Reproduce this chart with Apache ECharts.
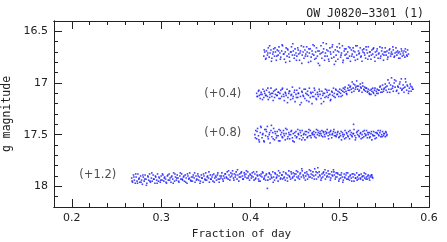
<!DOCTYPE html>
<html><head><meta charset="utf-8">
<script src="https://cdn.jsdelivr.net/npm/echarts@6/dist/echarts.min.js"></script>
<style>html,body{margin:0;padding:0;background:#fff}#c{width:447px;height:242px}</style>
</head><body><div id="c"></div>
<script>
const titleText = 'OW J0820\u22123301 (1)';
const xMajor = [0.2, 0.3, 0.4, 0.5, 0.6];
const yMajor = [16.5, 17, 17.5, 18];
const offsetLabels = [[0.369,17.105,'(+0.4)'],[0.369,17.48,'(+0.8)'],[0.229,17.89,'(+1.2)']];

const bandA = [[0.415,16.74],[0.416,16.70],[0.417,16.77],[0.418,16.69],[0.419,16.73],[0.420,16.66],[0.421,16.75],[0.422,16.71],[0.423,16.68],[0.424,16.76],[0.425,16.72],[0.426,16.67],[0.427,16.74],[0.428,16.70],[0.429,16.78],[0.430,16.68],[0.431,16.73],[0.432,16.65],[0.433,16.71],[0.434,16.75],[0.435,16.69],[0.436,16.64],[0.437,16.72],[0.438,16.77],[0.439,16.70],[0.440,16.66],[0.441,16.74],[0.442,16.68],[0.443,16.72],[0.444,16.79],[0.445,16.70],[0.446,16.65],[0.447,16.73],[0.448,16.69],[0.449,16.76],[0.450,16.67],[0.451,16.71],[0.452,16.74],[0.453,16.66],[0.454,16.72],[0.455,16.78],[0.456,16.69],[0.457,16.64],[0.458,16.73],[0.459,16.70],[0.460,16.76],[0.461,16.68],[0.462,16.72],[0.463,16.65],[0.464,16.74],[0.465,16.80],[0.466,16.71],[0.467,16.67],[0.468,16.75],[0.469,16.69],[0.470,16.63],[0.471,16.73],[0.472,16.77],[0.473,16.70],[0.474,16.66],[0.475,16.74],[0.476,16.81],[0.477,16.69],[0.478,16.72],[0.479,16.64],[0.480,16.76],[0.481,16.70],[0.482,16.67],[0.483,16.78],[0.484,16.71],[0.485,16.62],[0.486,16.74],[0.487,16.69],[0.488,16.79],[0.489,16.66],[0.490,16.72],[0.491,16.76],[0.492,16.63],[0.493,16.70],[0.494,16.82],[0.495,16.68],[0.496,16.73],[0.497,16.65],[0.498,16.77],[0.499,16.70],[0.500,16.66],[0.501,16.75],[0.502,16.71],[0.503,16.64],[0.504,16.78],[0.505,16.69],[0.506,16.73],[0.507,16.67],[0.508,16.76],[0.509,16.70],[0.510,16.65],[0.511,16.74],[0.512,16.79],[0.513,16.68],[0.514,16.72],[0.515,16.66],[0.516,16.75],[0.517,16.70],[0.518,16.64],[0.519,16.73],[0.520,16.77],[0.521,16.69],[0.522,16.71],[0.523,16.66],[0.524,16.74],[0.525,16.79],[0.526,16.70],[0.527,16.67],[0.528,16.73],[0.529,16.76],[0.530,16.68],[0.531,16.71],[0.532,16.65],[0.533,16.74],[0.534,16.70],[0.535,16.77],[0.536,16.68],[0.537,16.72],[0.538,16.66],[0.539,16.75],[0.540,16.70],[0.541,16.73],[0.542,16.67],[0.543,16.76],[0.544,16.71],[0.545,16.65],[0.546,16.74],[0.547,16.69],[0.548,16.72],[0.549,16.78],[0.550,16.70],[0.551,16.66],[0.552,16.73],[0.553,16.69],[0.554,16.75],[0.555,16.71],[0.556,16.67],[0.557,16.74],[0.558,16.70],[0.559,16.72],[0.560,16.68],[0.561,16.75],[0.562,16.71],[0.563,16.66],[0.564,16.73],[0.565,16.69],[0.566,16.76],[0.567,16.70],[0.568,16.72],[0.569,16.67],[0.570,16.74],[0.571,16.71],[0.572,16.69],[0.573,16.75],[0.574,16.70],[0.575,16.73],[0.576,16.68],[0.577,16.72]];
const bandA2 = [[0.4155,16.68],[0.4175,16.76],[0.4195,16.71],[0.4215,16.64],[0.4235,16.79],[0.4255,16.70],[0.4275,16.66],[0.4295,16.74],[0.4315,16.69],[0.4335,16.77],[0.4355,16.63],[0.4375,16.72],[0.4395,16.80],[0.4415,16.67],[0.4435,16.75],[0.4455,16.70],[0.4475,16.62],[0.4495,16.73],[0.4515,16.78],[0.4535,16.68],[0.4555,16.71],[0.4575,16.81],[0.4595,16.65],[0.4615,16.74],[0.4635,16.70],[0.4655,16.67],[0.4675,16.79],[0.4695,16.72],[0.4715,16.64],[0.4735,16.76],[0.4755,16.69],[0.4775,16.83],[0.4795,16.71],[0.4815,16.61],[0.4835,16.74],[0.4855,16.68],[0.4875,16.77],[0.4895,16.70],[0.4915,16.65],[0.4935,16.75],[0.4955,16.79],[0.4975,16.69],[0.4995,16.62],[0.5015,16.73],[0.5035,16.80],[0.5055,16.67],[0.5075,16.72],[0.5095,16.76],[0.5115,16.66],[0.5135,16.74],[0.5155,16.69],[0.5175,16.78],[0.5195,16.64],[0.5215,16.72],[0.5235,16.75],[0.5255,16.68],[0.5275,16.71],[0.5295,16.65],[0.5315,16.77],[0.5335,16.70],[0.5355,16.73],[0.5375,16.67],[0.5395,16.79],[0.5415,16.69],[0.5435,16.72],[0.5455,16.76],[0.5475,16.66],[0.5495,16.73],[0.5515,16.70],[0.5535,16.77],[0.5555,16.68],[0.5575,16.72],[0.5595,16.65],[0.5615,16.74],[0.5635,16.70],[0.5655,16.71],[0.5675,16.76],[0.5695,16.69],[0.5715,16.73],[0.5735,16.67],[0.5755,16.74]];

const bandB = [[0.407,17.10],[0.408,17.13],[0.409,17.08],[0.410,17.12],[0.411,17.15],[0.412,17.09],[0.413,17.11],[0.414,17.06],[0.415,17.14],[0.416,17.10],[0.417,17.12],[0.418,17.07],[0.419,17.13],[0.420,17.16],[0.421,17.09],[0.422,17.11],[0.423,17.05],[0.424,17.13],[0.425,17.10],[0.426,17.08],[0.427,17.14],[0.428,17.11],[0.429,17.06],[0.430,17.12],[0.431,17.09],[0.432,17.15],[0.433,17.10],[0.434,17.07],[0.435,17.13],[0.436,17.05],[0.437,17.11],[0.438,17.17],[0.439,17.09],[0.440,17.12],[0.441,17.06],[0.442,17.14],[0.443,17.10],[0.444,17.08],[0.445,17.16],[0.446,17.11],[0.447,17.04],[0.448,17.13],[0.449,17.09],[0.450,17.18],[0.451,17.11],[0.452,17.07],[0.453,17.14],[0.454,17.10],[0.455,17.05],[0.456,17.13],[0.457,17.19],[0.458,17.09],[0.459,17.12],[0.460,17.06],[0.461,17.15],[0.462,17.10],[0.463,17.17],[0.464,17.08],[0.465,17.12],[0.466,17.05],[0.467,17.14],[0.468,17.10],[0.469,17.20],[0.470,17.09],[0.471,17.13],[0.472,17.07],[0.473,17.11],[0.474,17.16],[0.475,17.09],[0.476,17.13],[0.477,17.06],[0.478,17.11],[0.479,17.15],[0.480,17.08],[0.481,17.12],[0.482,17.18],[0.483,17.10],[0.484,17.06],[0.485,17.13],[0.486,17.09],[0.487,17.14],[0.488,17.07],[0.489,17.11],[0.490,17.16],[0.491,17.08],[0.492,17.12],[0.493,17.05],[0.494,17.10],[0.495,17.14],[0.496,17.07],[0.497,17.11],[0.498,17.08],[0.499,17.13],[0.500,17.06],[0.501,17.10],[0.502,17.07],[0.503,17.12],[0.504,17.05],[0.505,17.09],[0.506,17.04],[0.507,17.08],[0.508,17.11],[0.509,17.05],[0.510,17.02],[0.511,17.07],[0.512,17.03],[0.513,17.06],[0.514,16.99],[0.515,17.05],[0.516,17.08],[0.517,17.02],[0.518,17.04],[0.519,16.98],[0.520,17.06],[0.521,17.03],[0.522,17.07],[0.523,17.01],[0.524,17.05],[0.525,17.09],[0.526,17.03],[0.527,17.06],[0.528,17.04],[0.529,17.08],[0.530,17.05],[0.531,17.09],[0.532,17.06],[0.533,17.10],[0.534,17.07],[0.535,17.11],[0.536,17.08],[0.537,17.05],[0.538,17.10],[0.539,17.07],[0.540,17.12],[0.541,17.08],[0.542,17.06],[0.543,17.10],[0.544,17.07],[0.545,17.04],[0.546,17.09],[0.547,17.06],[0.548,17.02],[0.549,17.08],[0.550,17.05],[0.551,17.01],[0.552,17.07],[0.553,17.03],[0.554,16.97],[0.555,17.06],[0.556,17.09],[0.557,17.02],[0.558,16.95],[0.559,17.05],[0.560,17.08],[0.561,17.00],[0.562,17.04],[0.563,16.98],[0.564,17.07],[0.565,17.03],[0.566,17.10],[0.567,17.01],[0.568,17.05],[0.569,16.96],[0.570,17.06],[0.571,17.02],[0.572,17.09],[0.573,17.04],[0.574,16.99],[0.575,17.07],[0.576,17.03],[0.577,17.10],[0.578,17.05],[0.579,17.01],[0.580,17.08],[0.581,17.04],[0.582,17.06]];
const bandB2 = [[0.4075,17.13],[0.4095,17.07],[0.4115,17.11],[0.4135,17.16],[0.4155,17.08],[0.4175,17.12],[0.4195,17.05],[0.4215,17.14],[0.4235,17.10],[0.4255,17.17],[0.4275,17.07],[0.4295,17.12],[0.4315,17.09],[0.4335,17.15],[0.4355,17.06],[0.4375,17.13],[0.4395,17.10],[0.4415,17.19],[0.4435,17.08],[0.4455,17.12],[0.4475,17.15],[0.4495,17.07],[0.4515,17.14],[0.4535,17.10],[0.4555,17.21],[0.4575,17.08],[0.4595,17.13],[0.4615,17.06],[0.4635,17.11],[0.4655,17.18],[0.4675,17.09],[0.4695,17.13],[0.4715,17.05],[0.4735,17.15],[0.4755,17.11],[0.4775,17.08],[0.4795,17.20],[0.4815,17.10],[0.4835,17.14],[0.4855,17.07],[0.4875,17.12],[0.4895,17.17],[0.4915,17.09],[0.4935,17.13],[0.4955,17.06],[0.4975,17.11],[0.4995,17.09],[0.5015,17.13],[0.5035,17.08],[0.5055,17.06],[0.5075,17.10],[0.5095,17.07],[0.5115,17.04],[0.5135,17.09],[0.5155,17.01],[0.5175,17.06],[0.5195,17.03],[0.5215,17.08],[0.5235,17.04],[0.5255,17.00],[0.5275,17.07],[0.5295,17.05],[0.5315,17.08],[0.5335,17.11],[0.5355,17.06],[0.5375,17.09],[0.5395,17.05],[0.5415,17.10],[0.5435,17.07],[0.5455,17.03],[0.5475,17.09],[0.5495,17.06],[0.5515,17.04],[0.5535,17.09],[0.5555,17.00],[0.5575,17.06],[0.5595,17.03],[0.5615,16.97],[0.5635,17.08],[0.5655,17.04],[0.5675,16.99],[0.5695,17.07],[0.5715,17.05],[0.5735,16.96],[0.5755,17.02],[0.5775,17.08],[0.5795,17.03],[0.5815,17.06]];

const bandC = [[0.405,17.50],[0.406,17.46],[0.407,17.54],[0.408,17.44],[0.409,17.51],[0.410,17.57],[0.411,17.48],[0.412,17.43],[0.413,17.53],[0.414,17.49],[0.415,17.56],[0.416,17.45],[0.417,17.51],[0.418,17.47],[0.419,17.42],[0.420,17.54],[0.421,17.50],[0.422,17.58],[0.423,17.46],[0.424,17.52],[0.425,17.48],[0.426,17.44],[0.427,17.55],[0.428,17.49],[0.429,17.53],[0.430,17.47],[0.431,17.51],[0.432,17.45],[0.433,17.56],[0.434,17.50],[0.435,17.48],[0.436,17.53],[0.437,17.46],[0.438,17.51],[0.439,17.55],[0.440,17.49],[0.441,17.45],[0.442,17.52],[0.443,17.48],[0.444,17.54],[0.445,17.50],[0.446,17.46],[0.447,17.53],[0.448,17.49],[0.449,17.57],[0.450,17.51],[0.451,17.47],[0.452,17.52],[0.453,17.45],[0.454,17.50],[0.455,17.54],[0.456,17.48],[0.457,17.51],[0.458,17.46],[0.459,17.53],[0.460,17.49],[0.461,17.55],[0.462,17.50],[0.463,17.47],[0.464,17.52],[0.465,17.48],[0.466,17.51],[0.467,17.46],[0.468,17.53],[0.469,17.49],[0.470,17.50],[0.471,17.47],[0.472,17.52],[0.473,17.48],[0.474,17.45],[0.475,17.50],[0.476,17.48],[0.477,17.51],[0.478,17.47],[0.479,17.49],[0.480,17.46],[0.481,17.52],[0.482,17.48],[0.483,17.50],[0.484,17.47],[0.485,17.49],[0.486,17.45],[0.487,17.51],[0.488,17.48],[0.489,17.50],[0.490,17.46],[0.491,17.53],[0.492,17.49],[0.493,17.47],[0.494,17.51],[0.495,17.48],[0.496,17.52],[0.497,17.50],[0.498,17.47],[0.499,17.53],[0.500,17.49],[0.501,17.51],[0.502,17.55],[0.503,17.48],[0.504,17.52],[0.505,17.50],[0.506,17.46],[0.507,17.53],[0.508,17.49],[0.509,17.51],[0.510,17.47],[0.511,17.54],[0.512,17.50],[0.513,17.48],[0.514,17.52],[0.515,17.49],[0.5155,17.40],[0.516,17.45],[0.517,17.51],[0.518,17.53],[0.519,17.48],[0.520,17.50],[0.521,17.46],[0.522,17.52],[0.523,17.49],[0.524,17.54],[0.525,17.50],[0.526,17.47],[0.527,17.52],[0.528,17.49],[0.529,17.51],[0.530,17.46],[0.531,17.53],[0.532,17.50],[0.533,17.48],[0.534,17.52],[0.535,17.49],[0.536,17.55],[0.537,17.50],[0.538,17.47],[0.539,17.51],[0.540,17.48],[0.541,17.53],[0.542,17.49],[0.543,17.46],[0.544,17.51],[0.545,17.48],[0.546,17.52],[0.547,17.50],[0.548,17.47],[0.549,17.51],[0.550,17.49],[0.551,17.52],[0.552,17.48],[0.553,17.50]];
const bandC2 = [[0.4055,17.53],[0.4075,17.47],[0.4095,17.55],[0.4115,17.42],[0.4135,17.50],[0.4155,17.57],[0.4175,17.45],[0.4195,17.52],[0.4215,17.48],[0.4235,17.41],[0.4255,17.54],[0.4275,17.47],[0.4295,17.51],[0.4315,17.56],[0.4335,17.46],[0.4355,17.52],[0.4375,17.49],[0.4395,17.44],[0.4415,17.54],[0.4435,17.50],[0.4455,17.47],[0.4475,17.56],[0.4495,17.48],[0.4515,17.53],[0.4535,17.49],[0.4555,17.46],[0.4575,17.55],[0.4595,17.50],[0.4615,17.47],[0.4635,17.53],[0.4655,17.45],[0.4675,17.51],[0.4695,17.48],[0.4715,17.50],[0.4735,17.53],[0.4755,17.46],[0.4775,17.49],[0.4795,17.51],[0.4815,17.47],[0.4835,17.52],[0.4855,17.48],[0.4875,17.54],[0.4895,17.47],[0.4915,17.50],[0.4935,17.45],[0.4955,17.51],[0.4975,17.48],[0.4995,17.52],[0.5015,17.47],[0.5035,17.50],[0.5055,17.54],[0.5075,17.48],[0.5095,17.52],[0.5115,17.46],[0.5135,17.51],[0.5155,17.49],[0.5175,17.55],[0.5195,17.47],[0.5215,17.51],[0.5235,17.48],[0.5255,17.53],[0.5275,17.46],[0.5295,17.50],[0.5315,17.48],[0.5335,17.53],[0.5355,17.47],[0.5375,17.51],[0.5395,17.54],[0.5415,17.48],[0.5435,17.50],[0.5455,17.46],[0.5475,17.52],[0.5495,17.49],[0.5515,17.47],[0.5525,17.51]];

const bandD = [[0.267,17.92],[0.268,17.96],[0.269,17.89],[0.270,17.94],[0.271,17.97],[0.272,17.91],[0.273,17.95],[0.274,17.88],[0.275,17.93],[0.276,17.96],[0.277,17.90],[0.278,17.94],[0.279,17.98],[0.280,17.91],[0.281,17.95],[0.282,17.89],[0.283,17.93],[0.284,17.97],[0.285,17.90],[0.286,17.94],[0.287,17.88],[0.288,17.96],[0.289,17.92],[0.290,17.95],[0.291,17.89],[0.292,17.93],[0.293,17.97],[0.294,17.91],[0.295,17.94],[0.296,17.88],[0.297,17.95],[0.298,17.92],[0.299,17.96],[0.300,17.90],[0.301,17.94],[0.302,17.89],[0.303,17.95],[0.304,17.91],[0.305,17.93],[0.306,17.97],[0.307,17.90],[0.308,17.94],[0.309,17.88],[0.310,17.92],[0.311,17.96],[0.312,17.90],[0.313,17.93],[0.314,17.87],[0.315,17.95],[0.316,17.91],[0.317,17.94],[0.318,17.89],[0.319,17.92],[0.320,17.96],[0.321,17.90],[0.322,17.93],[0.323,17.88],[0.324,17.94],[0.325,17.91],[0.326,17.95],[0.327,17.89],[0.328,17.92],[0.329,17.97],[0.330,17.90],[0.331,17.93],[0.332,17.87],[0.333,17.94],[0.334,17.91],[0.335,17.95],[0.336,17.89],[0.337,17.92],[0.338,17.96],[0.339,17.90],[0.340,17.93],[0.341,17.88],[0.342,17.94],[0.343,17.91],[0.344,17.95],[0.345,17.89],[0.346,17.92],[0.347,17.96],[0.348,17.90],[0.349,17.93],[0.350,17.87],[0.351,17.94],[0.352,17.90],[0.353,17.92],[0.354,17.96],[0.355,17.89],[0.356,17.93],[0.357,17.91],[0.358,17.95],[0.359,17.88],[0.360,17.92],[0.361,17.90],[0.362,17.94],[0.363,17.89],[0.364,17.93],[0.365,17.96],[0.366,17.90],[0.367,17.92],[0.368,17.87],[0.369,17.93],[0.370,17.90],[0.371,17.92],[0.372,17.88],[0.373,17.91],[0.374,17.86],[0.375,17.93],[0.376,17.89],[0.377,17.94],[0.378,17.87],[0.379,17.90],[0.380,17.85],[0.381,17.92],[0.382,17.88],[0.383,17.91],[0.384,17.86],[0.385,17.93],[0.386,17.89],[0.387,17.95],[0.388,17.88],[0.389,17.91],[0.390,17.86],[0.391,17.90],[0.392,17.93],[0.393,17.87],[0.394,17.91],[0.395,17.88],[0.396,17.92],[0.397,17.86],[0.398,17.90],[0.399,17.94],[0.400,17.89],[0.401,17.92],[0.402,17.87],[0.403,17.91],[0.404,17.94],[0.405,17.88],[0.406,17.92],[0.407,17.86],[0.408,17.90],[0.409,17.93],[0.410,17.89],[0.411,17.95],[0.412,17.88],[0.413,17.91],[0.414,17.87],[0.415,17.93],[0.416,17.90],[0.417,17.94],[0.418,17.88],[0.419,18.02],[0.420,17.91],[0.421,17.87],[0.422,17.93],[0.423,17.89],[0.424,17.92],[0.425,17.86],[0.426,17.91],[0.427,17.94],[0.428,17.88],[0.429,17.92],[0.430,17.89],[0.431,17.95],[0.432,17.90],[0.433,17.87],[0.434,17.92],[0.435,17.89],[0.436,17.93],[0.437,17.86],[0.438,17.91],[0.439,17.94],[0.440,17.88],[0.441,17.92],[0.442,17.89],[0.443,17.85],[0.444,17.91],[0.445,17.93],[0.446,17.88],[0.447,17.92],[0.448,17.87],[0.449,17.90],[0.450,17.94],[0.451,17.88],[0.452,17.91],[0.453,17.86],[0.454,17.90],[0.455,17.93],[0.456,17.87],[0.457,17.91],[0.458,17.85],[0.459,17.89],[0.460,17.92],[0.461,17.87],[0.462,17.90],[0.463,17.86],[0.464,17.93],[0.465,17.89],[0.466,17.84],[0.467,17.91],[0.468,17.88],[0.469,17.92],[0.470,17.86],[0.471,17.90],[0.472,17.83],[0.473,17.89],[0.474,17.93],[0.475,17.87],[0.476,17.91],[0.477,17.86],[0.478,17.90],[0.479,17.94],[0.480,17.88],[0.481,17.91],[0.482,17.86],[0.483,17.89],[0.484,17.93],[0.485,17.87],[0.486,17.90],[0.487,17.85],[0.488,17.91],[0.489,17.88],[0.490,17.92],[0.491,17.86],[0.492,17.90],[0.493,17.84],[0.494,17.89],[0.495,17.93],[0.496,17.87],[0.497,17.91],[0.498,17.88],[0.499,17.95],[0.500,17.89],[0.501,17.92],[0.502,17.87],[0.503,17.91],[0.504,17.94],[0.505,17.88],[0.506,17.92],[0.507,17.89],[0.508,17.93],[0.509,17.87],[0.510,17.91],[0.511,17.94],[0.512,17.89],[0.513,17.92],[0.514,17.88],[0.515,17.91],[0.516,17.95],[0.517,17.89],[0.518,17.92],[0.519,17.87],[0.520,17.91],[0.521,17.93],[0.522,17.89],[0.523,17.92],[0.524,17.88],[0.525,17.91],[0.526,17.94],[0.527,17.90],[0.528,17.92],[0.529,17.88],[0.530,17.91],[0.531,17.93],[0.532,17.89],[0.533,17.92],[0.534,17.90],[0.535,17.91],[0.536,17.89],[0.537,17.92]];
const bandD2 = [[0.2675,17.95],[0.2695,17.91],[0.2715,17.88],[0.2735,17.97],[0.2755,17.92],[0.2775,17.96],[0.2795,17.89],[0.2815,17.93],[0.2835,17.99],[0.2855,17.91],[0.2875,17.95],[0.2895,17.87],[0.2915,17.93],[0.2935,17.90],[0.2955,17.97],[0.2975,17.91],[0.2995,17.94],[0.3015,17.88],[0.3035,17.92],[0.3055,17.96],[0.3075,17.89],[0.3095,17.94],[0.3115,17.91],[0.3135,17.97],[0.3155,17.88],[0.3175,17.92],[0.3195,17.95],[0.3215,17.87],[0.3235,17.93],[0.3255,17.90],[0.3275,17.96],[0.3295,17.88],[0.3315,17.92],[0.3335,17.95],[0.3355,17.91],[0.3375,17.87],[0.3395,17.94],[0.3415,17.90],[0.3435,17.97],[0.3455,17.92],[0.3475,17.88],[0.3495,17.94],[0.3515,17.91],[0.3535,17.86],[0.3555,17.93],[0.3575,17.89],[0.3595,17.96],[0.3615,17.91],[0.3635,17.87],[0.3655,17.93],[0.3675,17.90],[0.3695,17.95],[0.3715,17.88],[0.3735,17.92],[0.3755,17.85],[0.3775,17.91],[0.3795,17.88],[0.3815,17.94],[0.3835,17.89],[0.3855,17.84],[0.3875,17.91],[0.3895,17.87],[0.3915,17.93],[0.3935,17.89],[0.3955,17.85],[0.3975,17.92],[0.3995,17.88],[0.4015,17.90],[0.4035,17.86],[0.4055,17.93],[0.4075,17.89],[0.4095,17.95],[0.4115,17.90],[0.4135,17.86],[0.4155,17.92],[0.4175,17.89],[0.4195,17.94],[0.4215,17.88],[0.4235,17.91],[0.4255,17.96],[0.4275,17.87],[0.4295,17.91],[0.4315,17.85],[0.4335,17.93],[0.4355,17.89],[0.4375,17.92],[0.4395,17.87],[0.4415,17.95],[0.4435,17.90],[0.4455,17.86],[0.4475,17.91],[0.4495,17.88],[0.4515,17.85],[0.4535,17.92],[0.4555,17.88],[0.4575,17.83],[0.4595,17.90],[0.4615,17.94],[0.4635,17.88],[0.4655,17.91],[0.4675,17.85],[0.4695,17.89],[0.4715,17.93],[0.4735,17.86],[0.4755,17.82],[0.4775,17.89],[0.4795,17.92],[0.4815,17.87],[0.4835,17.84],[0.4855,17.91],[0.4875,17.88],[0.4895,17.94],[0.4915,17.89],[0.4935,17.86],[0.4955,17.91],[0.4975,17.87],[0.4995,17.93],[0.5015,17.89],[0.5035,17.96],[0.5055,17.91],[0.5075,17.87],[0.5095,17.93],[0.5115,17.90],[0.5135,17.95],[0.5155,17.88],[0.5175,17.92],[0.5195,17.94],[0.5215,17.89],[0.5235,17.93],[0.5255,17.90],[0.5275,17.87],[0.5295,17.93],[0.5315,17.90],[0.5335,17.94],[0.5355,17.89],[0.5365,17.91]];

const chart = echarts.init(document.getElementById('c'), null, {renderer: 'canvas'});
const axisCol = '#222';
const tickFont = {fontFamily: 'DejaVu Sans', fontSize: 11, color: '#222'};
const fmt = v => String(+(+v).toFixed(2));
const X_MIN = 0.18, X_MAX = 0.6, Y_MIN = 16.4, Y_MAX = 18.2;
function ax(kind, grid, pos, major, showLabel, extra) {
  const isX = kind === 'x';
  const majors = isX ? xMajor : yMajor;
  const base = {
    type: 'value', min: isX ? X_MIN : Y_MIN, max: isX ? X_MAX : Y_MAX, inverse: !isX,
    position: pos, gridIndex: grid,
    axisLine: {show: true, onZero: false, lineStyle: {color: axisCol, width: 1}},
    splitLine: {show: false}
  };
  if (major) {
    base.axisTick = {show: true, inside: true, length: 8, customValues: majors, lineStyle: {color: axisCol, width: 1}};
    base.axisLabel = showLabel ? Object.assign({show: true, customValues: majors, margin: 6, formatter: fmt}, tickFont) : {show: false, customValues: majors};
  } else {
    base.interval = isX ? 0.02 : 0.1;
    base.axisTick = {show: true, inside: true, length: 4, lineStyle: {color: axisCol, width: 1}};
    base.axisLabel = {show: false};
  }
  return Object.assign(base, extra || {});
}
const gridBox = {left: 54, right: 18, top: 21, bottom: 35, containLabel: false, outerBoundsMode: 'none'};
const dotStyle = {color: '#1010ff'};
const mkScatter = d => ({type: 'scatter', xAxisIndex: 0, yAxisIndex: 0, data: d, symbol: 'rect', symbolSize: 1.6, itemStyle: dotStyle, silent: true});

chart.setOption({
  animation: false,
  backgroundColor: '#fff',
  title: {text: titleText, right: 18, top: 3, textStyle: {fontFamily: 'DejaVu Sans Mono', fontSize: 11.5, fontWeight: 'normal', color: '#222'}},
  grid: [Object.assign({}, gridBox), Object.assign({}, gridBox)],
  xAxis: [
    ax('x', 0, 'bottom', true, true, {name: 'Fraction of day', nameLocation: 'middle', nameGap: 20, nameTextStyle: {fontFamily: 'DejaVu Sans Mono', fontSize: 11, color: '#222'}}),
    ax('x', 0, 'top', false, false),
    ax('x', 1, 'bottom', false, false),
    ax('x', 1, 'top', true, false)
  ],
  yAxis: [
    ax('y', 0, 'left', true, true, {name: 'g magnitude', nameLocation: 'middle', nameGap: 35, nameRotate: 90, nameTextStyle: {fontFamily: 'DejaVu Sans Mono', fontSize: 11.5, color: '#222'}}),
    ax('y', 0, 'right', false, false),
    ax('y', 1, 'left', false, false),
    ax('y', 1, 'right', true, false)
  ],
  series: [
    mkScatter(bandA.concat(bandA2)), mkScatter(bandB.concat(bandB2)),
    mkScatter(bandC.concat(bandC2)), mkScatter(bandD.concat(bandD2)),
    {type: 'scatter', xAxisIndex: 0, yAxisIndex: 0, symbolSize: 0, silent: true,
     data: offsetLabels.map(r => ({value: [r[0], r[1]], name: r[2]})),
     label: {show: true, position: 'inside', formatter: p => p.name, fontFamily: 'DejaVu Sans', fontSize: 11.5, color: '#222'}}
  ]
});
</script></body></html>
